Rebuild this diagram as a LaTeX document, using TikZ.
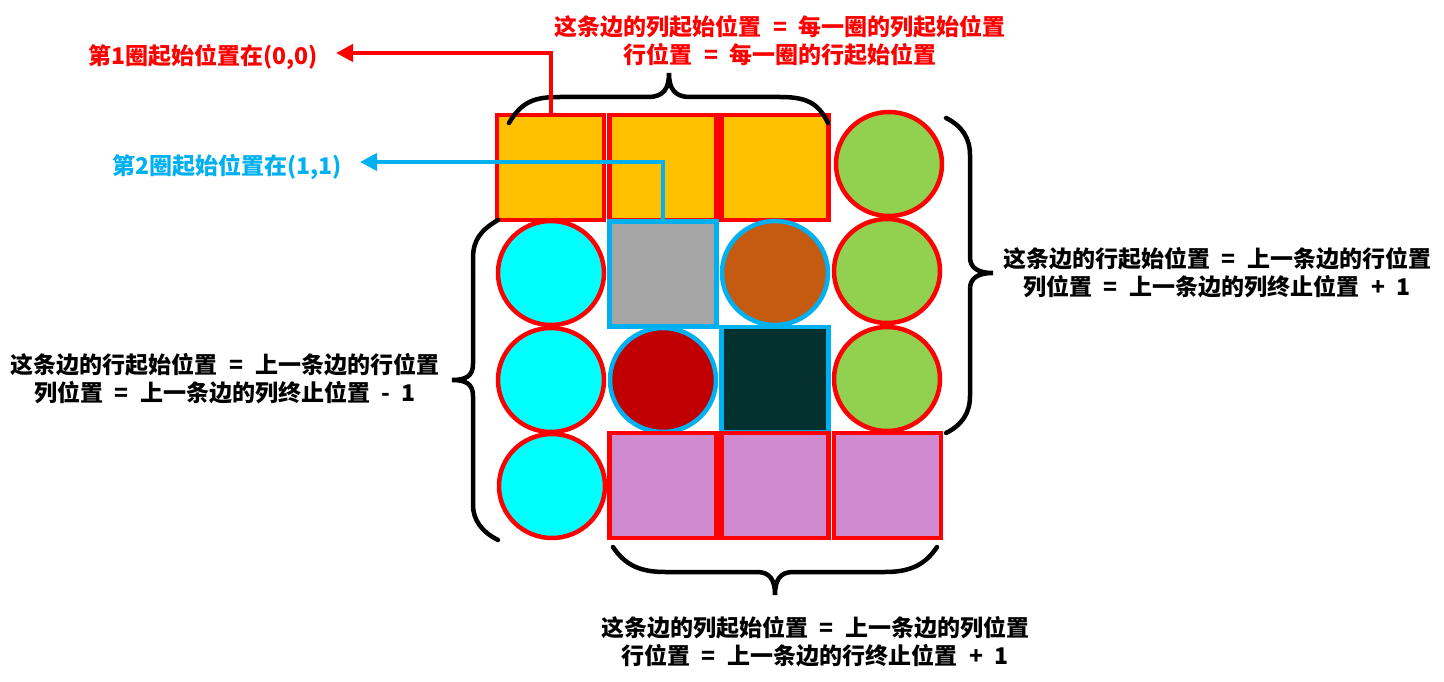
\documentclass[tikz,border=0pt]{standalone}
\usepackage{fontspec}
\newfontfamily\cjk{Noto Sans CJK SC}
\usetikzlibrary{shapes.geometric,arrows.meta}
\definecolor{cred}{HTML}{FF0000}
\definecolor{cblue}{HTML}{00B0F0}
\definecolor{corange}{HTML}{FFC000}
\definecolor{cgreen}{HTML}{92D050}
\definecolor{ccyan}{HTML}{00FFFF}
\definecolor{cgray}{HTML}{A5A5A5}
\definecolor{cbrown}{HTML}{C55A11}
\definecolor{cdred}{HTML}{C00000}
\definecolor{cteal}{HTML}{023130}
\definecolor{cpurple}{HTML}{D08BD0}
\newcommand{\myeq}{\hspace{0.5em}=\hspace{0.5em}}
\newcommand{\mysp}{\hspace{0.5em}}
\tikzset{
  cellsq/.style={rectangle, minimum width=107pt, minimum height=105pt, line width=4.5pt, inner sep=0pt},
  cellci/.style={ellipse, minimum width=106pt, minimum height=104pt, line width=4.5pt, inner sep=0pt},
  redb/.style={draw=cred},
  blueb/.style={draw=cblue},
  lbl/.style={font=\cjk\bfseries\fontsize{23}{28}\selectfont, align=center, inner sep=0pt},
  brace/.style={draw=black, line width=4.5pt, line cap=round},
  arr/.style={line width=4pt, -{Triangle[length=17pt,width=17pt]}},
}
\begin{document}
\begin{tikzpicture}[x=1pt,y=-1pt]
\useasboundingbox (0,0) rectangle (1444,682);
% row 0
\node[cellsq,redb,fill=corange] (c00) at (550.5,167.5) {};
\node[cellsq,redb,fill=corange] (c01) at (663,167.5) {};
\node[cellsq,redb,fill=corange] (c02) at (775,167.5) {};
\node[cellci,redb,fill=cgreen] (c03) at (889,164) {};
% row 1
\node[cellci,redb,fill=ccyan] (c10) at (551,273) {};
\node[cellsq,blueb,fill=cgray] (c11) at (663,274) {};
\node[cellci,blueb,fill=cbrown] (c12) at (775,273) {};
\node[cellci,redb,fill=cgreen] (c13) at (887,271) {};
% row 2
\node[cellci,redb,fill=ccyan] (c20) at (551,380) {};
\node[cellci,blueb,fill=cdred] (c21) at (663,380) {};
\node[cellsq,blueb,fill=cteal] (c22) at (775,379.5) {};
\node[cellci,redb,fill=cgreen] (c23) at (887,379) {};
% row 3
\node[cellci,redb,fill=ccyan] (c30) at (552,486) {};
\node[cellsq,redb,fill=cpurple] (c31) at (663,485.5) {};
\node[cellsq,redb,fill=cpurple] (c32) at (775,485.5) {};
\node[cellsq,redb,fill=cpurple] (c33) at (887.5,485.5) {};
% braces
\draw[brace] (509,123) .. controls (522,101) and (535,97) .. (560,97) -- (648,97) .. controls (664,97) and (669,88) .. (669,73) .. controls (669,88) and (674,97) .. (690,97) -- (780,97) .. controls (805,97) and (818,102) .. (828,123);
\draw[brace] (498,220) .. controls (481,230) and (473,240) .. (473,258) -- (473,364) .. controls (473,376) and (466,380) .. (452,380) .. controls (466,380) and (473,384) .. (473,396) -- (473,505) .. controls (473,520) and (482,532) .. (498,540);
\draw[brace] (946,118) .. controls (962,126) and (970,138) .. (970,155) -- (970,257) .. controls (970,268) and (978,273) .. (993,273) .. controls (978,273) and (970,278) .. (970,289) -- (970,396) .. controls (970,413) and (962,425) .. (946,433);
\draw[brace] (613,547) .. controls (625,565) and (640,572) .. (665,572) -- (757,572) .. controls (770,572) and (775,580) .. (775,595) .. controls (775,580) and (780,572) .. (793,572) -- (885,572) .. controls (910,572) and (925,565) .. (937,547);
% labels
\node[lbl,text=cred] (ttop) at (780,41) {这条边的列起始位置\myeq 每一圈的列起始位置\\行位置\myeq 每一圈的行起始位置};
\node[lbl] (tleft) at (225,379) {这条边的行起始位置\myeq 上一条边的行位置\\列位置\myeq 上一条边的列终止位置\mysp-\mysp1};
\node[lbl] (tright) at (1217,273) {这条边的行起始位置\myeq 上一条边的行位置\\列位置\myeq 上一条边的列终止位置\mysp+\mysp1};
\node[lbl] (tbot) at (815,642) {这条边的列起始位置\myeq 上一条边的列位置\\行位置\myeq 上一条边的行终止位置\mysp+\mysp1};
\node[lbl,text=cred,anchor=east] (tr1) at (318,57) {第1圈起始位置在(0,0)};
\node[lbl,text=cblue,anchor=east] (tb1) at (342,167) {第2圈起始位置在(1,1)};
% arrows
\coordinate (ra) at (336,53);
\coordinate (ba) at (360,162);
\draw[arr,draw=cred] (c00.north) |- (ra);
\draw[arr,draw=cblue] (c11.north) |- (ba);
\end{tikzpicture}
\end{document}
